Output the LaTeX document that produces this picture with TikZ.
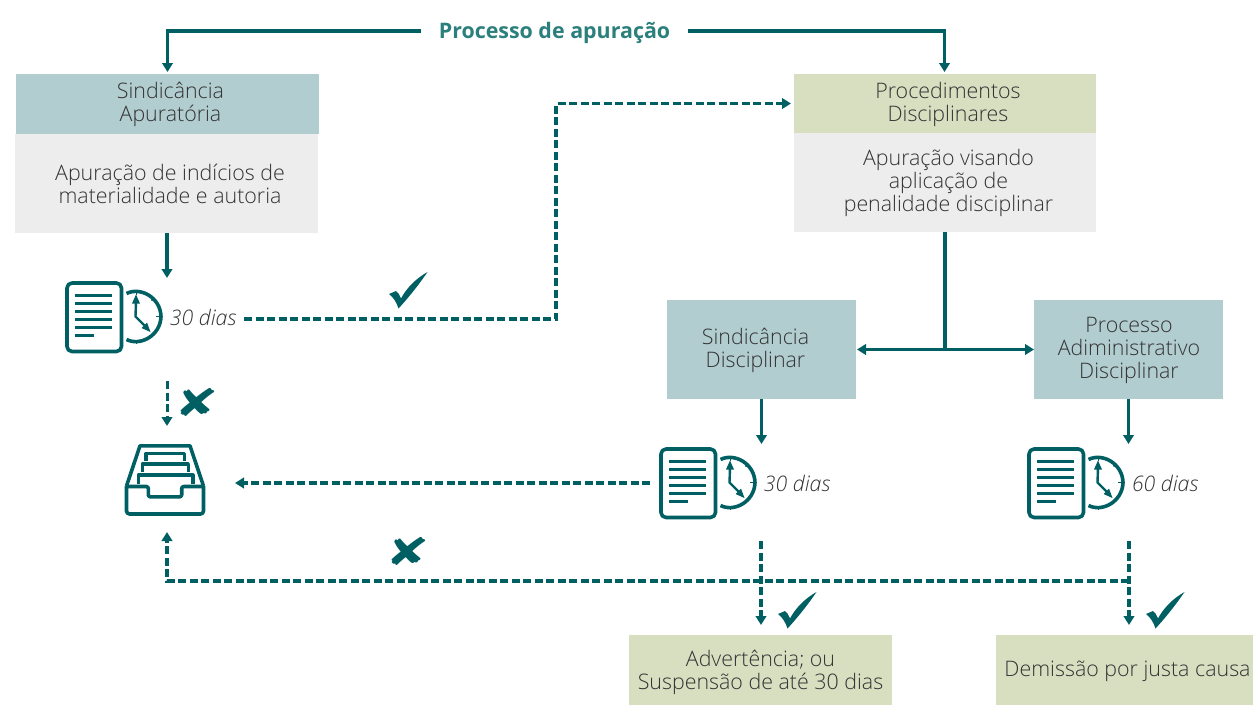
\documentclass[tikz,border=0pt]{standalone}
\usepackage{fontspec}
\setmainfont{Open Sans Light}[ItalicFont={Open Sans Light Italic},BoldFont={Open Sans Bold}]
\newfontfamily\symfont{DejaVu Sans}
\usetikzlibrary{arrows.meta,calc}
\definecolor{teal}{HTML}{005F62}
\definecolor{titlec}{HTML}{2B7F7C}
\definecolor{bluebox}{HTML}{B2CDD0}
\definecolor{greenbox}{HTML}{D8DFC1}
\definecolor{greybox}{HTML}{EDEDED}
\definecolor{txt}{HTML}{333333}
\tikzset{
  x=1pt,y=-1pt,
  boxlabel/.style={text=txt,font=\fontsize{21.4}{23}\selectfont,align=center,inner sep=0pt,outer sep=0pt},
  boxtext/.style={inner sep=0pt,outer sep=0pt,anchor=north west},
  bluehead/.style={boxtext,fill=bluebox},
  greenhead/.style={boxtext,fill=greenbox},
  greybody/.style={boxtext,fill=greybox},
  daystext/.style={text=txt,font=\fontsize{21.4}{23}\selectfont\itshape,inner sep=0pt},
  crossmark/.style={text=teal,font=\fontsize{38}{38}\selectfont\symfont,inner sep=0pt},
  conn/.style={draw=teal,line width=3.2pt,-{Triangle[length=9pt,width=10.5pt]}},
  plain conn/.style={draw=teal,line width=3.2pt},
  dconn/.style={conn,dash pattern=on 8pt off 3.5pt},
  icon/.style={draw=teal,line width=3.6pt,line join=round},
  iconline/.style={draw=teal,line width=3.8pt},
  anchorbox/.style={inner sep=0pt,outer sep=0pt,minimum width=57pt,minimum height=70pt,anchor=north west}
}
\newcommand{\docclock}[1]{%
  \begin{scope}[shift={(#1)}]
    \draw[icon,rounded corners=5pt] (1.5,1.5) rectangle (56,70);
    \foreach \yy in {14,22,30,38,46} \draw[iconline] (9,\yy) -- (46.5,\yy);
    \draw[iconline] (9,54) -- (28,54);
    \draw[icon] (61,12) .. controls (75,5) and (95,16) .. (95.5,35) .. controls (95,54) and (75,65) .. (61,58);
    \draw[draw=teal,line width=2.4pt] (70.5,20) -- (70,35) -- (82,47);
    \fill[teal] (70.5,13) -- (66.5,22) -- (74.5,22) -- cycle;
    \fill[teal] (85,50.5) -- (76,46.5) -- (81.5,41) -- cycle;
    \foreach \a/\b/\c/\d in {71/10/71/13, 93/35/90/35, 71/59/71/62, 88/17/86/19} \draw[draw=teal,line width=1.5pt] (\a,\b) -- (\c,\d);
  \end{scope}}
\newcommand{\checkmk}[1]{%
  \fill[teal,shift={(#1)}] (0,22) -- (7,19) .. controls (9,20) and (10.5,23) .. (12,26.5) .. controls (17,17) and (26,7) .. (38.5,0) .. controls (31,11) and (21,24) .. (9.5,36.5) .. controls (7.5,30) and (4,25) .. (0,22) -- cycle;}
\begin{document}
\begin{tikzpicture}
\useasboundingbox (0,0) rectangle (1253,705);
% title
\node[inner sep=0pt,outer sep=0pt,minimum width=267pt,minimum height=20pt,label={[inner sep=0pt,outer sep=0pt,font=\fontsize{21.4}{23}\selectfont\bfseries,text=titlec,yshift=-2pt]center:Processo de apuração}] (title) at (554.5,31) {};
% boxes
\node[bluehead,minimum width=303pt,minimum height=60pt,label={[boxlabel,xshift=3pt]center:Sindicância\\Apuratória}] (sah) at (16,74) {};
\node[greybody,minimum width=303pt,minimum height=99pt,label={[boxlabel,xshift=3.5pt]center:Apuração de indícios de\\materialidade e autoria}] (sab) at (15,134) {};
\node[greenhead,minimum width=302pt,minimum height=59pt,label={[boxlabel,xshift=3pt,yshift=-0.7pt]center:Procedimentos\\Disciplinares}] (pdh) at (794,74) {};
\node[greybody,minimum width=302pt,minimum height=99pt,label={[boxlabel,xshift=3.5pt]center:Apuração visando\\aplicação de\\penalidade disciplinar}] (pdb) at (794,133) {};
\node[bluehead,minimum width=189pt,minimum height=99pt,label={[boxlabel,xshift=-6pt,yshift=-1pt]center:Sindicância\\Disciplinar}] (sd) at (667,300) {};
\node[bluehead,minimum width=189pt,minimum height=99pt,label={[boxlabel,xshift=0.5pt,yshift=-1pt]center:Processo\\Adiministrativo\\Disciplinar}] (pad) at (1034,300) {};
\node[greenhead,minimum width=263pt,minimum height=70pt,label={[boxlabel,yshift=-2pt]center:Advertência; ou\\Suspensão de até 30 dias}] (adv) at (629,635) {};
\node[greenhead,minimum width=257pt,minimum height=70pt,label={[boxlabel,xshift=3pt,yshift=-1pt]center:Demissão por justa causa}] (dem) at (996,635) {};
% icons
\node[anchorbox] (doca) at (65.5,281.5) {};
\node[anchorbox] (docb) at (659.5,447.5) {};
\node[anchorbox] (docc) at (1027.5,447.5) {};
\docclock{doca.north west}
\docclock{docb.north west}
\docclock{docc.north west}
\node[daystext] (da) at (203,317) {30 dias};
\node[daystext] (db) at (797,483) {30 dias};
\node[daystext] (dc) at (1165,483) {60 dias};
% archive drawer
\node[inner sep=0pt,outer sep=0pt,minimum width=80pt,minimum height=72pt] (arch) at (165,480) {};
\begin{scope}[shift={(arch.north west)},icon]
  \draw (1.5,42) -- (15,1.8) -- (65,1.8) -- (78.5,42);
  \draw[rounded corners=3pt] (1.5,42) -- (1.5,70) -- (78.5,70) -- (78.5,42);
  \draw[rounded corners=2pt] (1.5,42.5) -- (23.3,42.5) -- (23.3,52.8) -- (56.7,52.8) -- (56.7,42.5) -- (78.5,42.5);
  \draw (13.3,40) -- (13.3,31) -- (67.7,31) -- (67.7,40);
  \draw (17.3,28) -- (17.3,20) -- (63.3,20) -- (63.3,28);
  \draw (21,17) -- (21,9.5) -- (59.3,9.5) -- (59.3,17);
\end{scope}
% coordinates
\coordinate (e1) at (167,278);
\coordinate (d1s) at (244,319);
\coordinate (d1c) at (556,319);
\coordinate (d1t) at ($(pdh.west)+(-3,0)$);
\coordinate (v1s) at (167,381);
\coordinate (v1e) at (167,426);
\coordinate (h2s) at (650,483);
\coordinate (h2e) at (235,483);
\coordinate (b1) at (1129,581);
\coordinate (b2) at (167,581);
\coordinate (b3) at (167,532);
\coordinate (v2s) at (761,541);
\coordinate (v3s) at (1129,541);
\coordinate (j) at (945,350);
\coordinate (t1) at (167.5,31);
\coordinate (t2) at (944.5,31);
% solid connectors
\draw[conn] (title.west) -- (t1) -- ($(t1 |- sah.north)+(0,-2)$);
\draw[conn] (title.east) -- (t2) -- ($(t2 |- pdh.north)+(0,-2)$);
\draw[conn] (sab.south -| e1) -- (e1);
\draw[plain conn] (pdb.south) -- (j);
\draw[draw=teal,line width=3.2pt,{Triangle[length=9pt,width=10.5pt]}-{Triangle[length=9pt,width=10.5pt]}] ($(sd.east)+(1,0)$) -- (pad.west);
\draw[conn] (sd.south) -- ($(sd.south)+(0,45)$);
\draw[conn] (pad.south) -- ($(pad.south)+(0,45)$);
% dashed connectors
\draw[dconn] (d1s) -- (d1c) -- (d1c |- pdh.west) -- (d1t);
\draw[dconn,line width=3pt] (v1s) -- (v1e);
\draw[dconn] (h2s) -- (h2e);
\draw[dconn] (b1) -- (b2) -- (b3);
\draw[dconn] (v2s) -- ($(adv.north -| v2s)+(0,-10)$);
\draw[dconn] (v3s) -- ($(dem.north -| v3s)+(0,-10)$);
% marks
\checkmk{389,272}
\checkmk{778,592}
\checkmk{1146,592}
\node[crossmark] (xa) at (197,402.5) {\scalebox{1.4}[1]{✘}};
\node[crossmark] (xb) at (408,551.5) {\scalebox{1.4}[1]{✘}};
\end{tikzpicture}
\end{document}
